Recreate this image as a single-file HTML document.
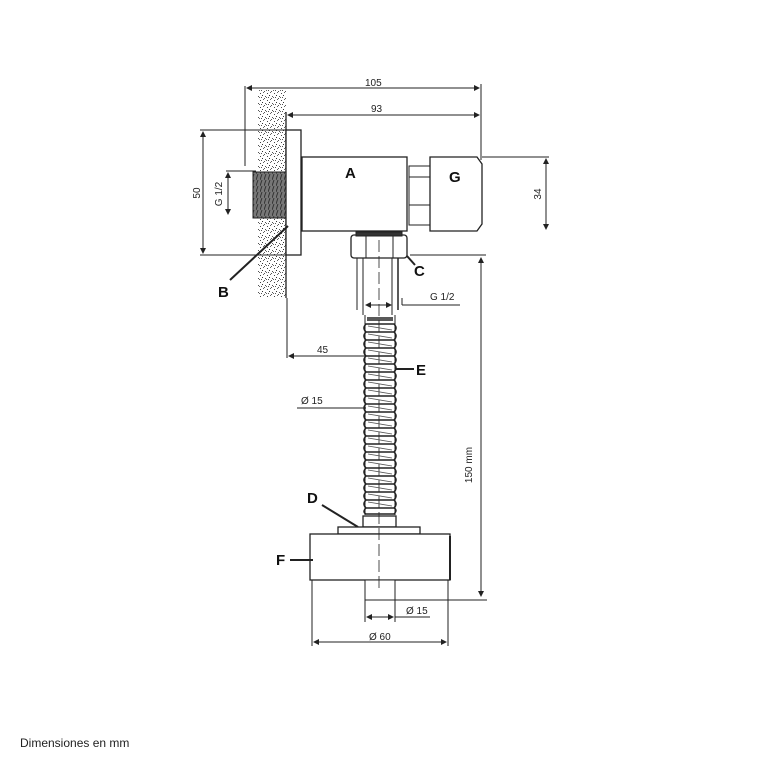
<!DOCTYPE html>
<html><head><meta charset="utf-8"><style>
html,body{margin:0;padding:0;background:#fff;}
svg{display:block;}
text{font-family:"Liberation Sans",sans-serif;fill:#222;}
.d{font-size:10px;}
.L{font-size:15px;font-weight:bold;fill:#111;}
</style></head><body>
<svg width="768" height="768" viewBox="0 0 768 768" xmlns="http://www.w3.org/2000/svg">
<defs>
<pattern id="st" width="7" height="7" patternUnits="userSpaceOnUse">
<rect x="1" y="2" width="1" height="1" fill="#444"/><rect x="5" y="0" width="1" height="1" fill="#555"/>
<rect x="3" y="4" width="1" height="1" fill="#333"/><rect x="6" y="5" width="1" height="1" fill="#555"/>
<rect x="0" y="6" width="1" height="1" fill="#666"/><rect x="4" y="1" width="1" height="1" fill="#666"/>
<rect x="2" y="6" width="1" height="1" fill="#555"/>
</pattern>
<pattern id="th" width="4" height="6" patternUnits="userSpaceOnUse">
<rect width="4" height="6" fill="#777"/><line x1="0" y1="6" x2="2" y2="0" stroke="#333" stroke-width="1"/>
</pattern>
<marker id="a" markerWidth="6" markerHeight="6" refX="5" refY="3" orient="auto-start-reverse" markerUnits="userSpaceOnUse"><path d="M0,0 L6,3 L0,6 z" fill="#222"/></marker>
</defs>
<g stroke="#222" fill="none" stroke-width="1">
<rect x="258" y="90" width="28" height="208" fill="url(#st)" stroke="none"/>
<line x1="286" y1="112" x2="286" y2="298" stroke-width="1.3"/>
<line x1="245" y1="86" x2="245" y2="166"/>
<line x1="247" y1="88" x2="479" y2="88" marker-start="url(#a)" marker-end="url(#a)"/>
<line x1="481" y1="84" x2="481" y2="160"/>
<line x1="288" y1="115" x2="479" y2="115" marker-start="url(#a)" marker-end="url(#a)"/>
<rect x="286" y="130" width="15" height="125" fill="#fff" stroke-width="1.3"/>
<rect x="253" y="172" width="33" height="46" fill="url(#th)" stroke="#222"/>
<rect x="302" y="157" width="105" height="74" fill="#fff" stroke-width="1.3"/>
<rect x="409" y="166" width="21" height="59" fill="#fff"/>
<line x1="409" y1="177" x2="430" y2="177"/><line x1="409" y1="205" x2="430" y2="205"/>
<path d="M430,157 L477,157 L482,164 L482,224 L477,231 L430,231 Z" fill="#fff" stroke-width="1.3"/>
<line x1="482" y1="157" x2="549" y2="157"/>
<line x1="546" y1="159" x2="546" y2="229" marker-start="url(#a)" marker-end="url(#a)"/>
<line x1="200" y1="130" x2="300" y2="130"/><line x1="200" y1="255" x2="300" y2="255"/>
<line x1="203" y1="132" x2="203" y2="253" marker-start="url(#a)" marker-end="url(#a)"/>
<line x1="226" y1="171" x2="256" y2="171"/>
<line x1="228" y1="173" x2="228" y2="214" marker-start="url(#a)" marker-end="url(#a)"/>
<line x1="230" y1="280" x2="288" y2="226" stroke-width="2"/>
<rect x="351" y="235" width="56" height="23" rx="3" fill="#fff" stroke-width="1.3"/>
<rect x="356" y="232" width="46" height="4" fill="#333"/>
<line x1="366" y1="236" x2="366" y2="258"/><line x1="393" y1="236" x2="393" y2="258"/>
<line x1="407" y1="256" x2="415" y2="265" stroke-width="2"/>
<line x1="357" y1="258" x2="357" y2="310"/><line x1="363" y1="258" x2="363" y2="315"/>
<line x1="392" y1="258" x2="392" y2="315"/><line x1="398" y1="258" x2="398" y2="310" stroke-width="1.5"/>
<line x1="366" y1="305" x2="391" y2="305" marker-start="url(#a)" marker-end="url(#a)"/>
<line x1="402" y1="305" x2="460" y2="305"/>
<line x1="402" y1="298" x2="402" y2="305"/>
<line x1="410" y1="255" x2="486" y2="255"/>
<line x1="481" y1="258" x2="481" y2="596" marker-start="url(#a)" marker-end="url(#a)"/>
<line x1="375" y1="600" x2="487" y2="600"/>
<line x1="287" y1="298" x2="287" y2="358"/>
<line x1="289" y1="356" x2="365" y2="356" marker-start="url(#a)"/>
<line x1="365" y1="315" x2="365" y2="515"/><line x1="395" y1="315" x2="395" y2="515"/>
<path d="M367,318 h26 M367,320 h26" stroke-width="1.6"/>
<line x1="396" y1="369" x2="414" y2="369" stroke-width="2"/>
<line x1="297" y1="408" x2="366" y2="408"/>
<line x1="322" y1="505" x2="358" y2="527" stroke-width="2"/>
<rect x="363" y="516" width="33" height="11" fill="#fff" stroke-width="1.3"/>
<rect x="338" y="527" width="82" height="7" fill="#fff" stroke-width="1.3"/>
<rect x="310" y="534" width="140" height="46" fill="#fff" stroke-width="1.3"/>
<line x1="450" y1="536" x2="450" y2="580" stroke-width="2"/>
<line x1="290" y1="560" x2="313" y2="560" stroke-width="2"/>
<rect x="365" y="580" width="30" height="20" fill="#fff"/>
<line x1="379" y1="240" x2="379" y2="592" stroke-dasharray="12,4" stroke-width="0.8"/>
<line x1="365" y1="600" x2="365" y2="622"/><line x1="395" y1="600" x2="395" y2="622"/>
<line x1="367" y1="617" x2="393" y2="617" marker-start="url(#a)" marker-end="url(#a)"/>
<line x1="395" y1="617" x2="430" y2="617"/>
<line x1="312" y1="580" x2="312" y2="646"/><line x1="448" y1="580" x2="448" y2="646"/>
<line x1="314" y1="642" x2="446" y2="642" marker-start="url(#a)" marker-end="url(#a)"/>
</g>
<g stroke="#222" fill="none" stroke-width="1.5">
<path d="M366,324 q-4,4 0,8 h28 q4,-4 0,-8 z M366,332 q-4,4 0,8 h28 q4,-4 0,-8 z M366,340 q-4,4 0,8 h28 q4,-4 0,-8 z M366,348 q-4,4 0,8 h28 q4,-4 0,-8 z M366,356 q-4,4 0,8 h28 q4,-4 0,-8 z M366,364 q-4,4 0,8 h28 q4,-4 0,-8 z M366,372 q-4,4 0,8 h28 q4,-4 0,-8 z M366,380 q-4,4 0,8 h28 q4,-4 0,-8 z M366,388 q-4,4 0,8 h28 q4,-4 0,-8 z M366,396 q-4,4 0,8 h28 q4,-4 0,-8 z M366,404 q-4,4 0,8 h28 q4,-4 0,-8 z M366,412 q-4,4 0,8 h28 q4,-4 0,-8 z M366,420 q-4,4 0,8 h28 q4,-4 0,-8 z M366,428 q-4,4 0,8 h28 q4,-4 0,-8 z M366,436 q-4,4 0,8 h28 q4,-4 0,-8 z M366,444 q-4,4 0,8 h28 q4,-4 0,-8 z M366,452 q-4,4 0,8 h28 q4,-4 0,-8 z M366,460 q-4,4 0,8 h28 q4,-4 0,-8 z M366,468 q-4,4 0,8 h28 q4,-4 0,-8 z M366,476 q-4,4 0,8 h28 q4,-4 0,-8 z M366,484 q-4,4 0,8 h28 q4,-4 0,-8 z M366,492 q-4,4 0,8 h28 q4,-4 0,-8 z M366,500 q-4,4 0,8 h28 q4,-4 0,-8 z M366,508 q-4,4 0,6 h28 q4,-4 0,-6"/>
</g>
<g stroke="#555" stroke-width="0.8">
<path d="M368,326 l24,4 M368,334 l24,4 M368,342 l24,4 M368,350 l24,4 M368,358 l24,4 M368,366 l24,4 M368,374 l24,4 M368,382 l24,4 M368,390 l24,4 M368,398 l24,4 M368,406 l24,4 M368,414 l24,4 M368,422 l24,4 M368,430 l24,4 M368,438 l24,4 M368,446 l24,4 M368,454 l24,4 M368,462 l24,4 M368,470 l24,4 M368,478 l24,4 M368,486 l24,4 M368,494 l24,4 M368,502 l24,4"/>
</g>
<text class="d" x="365" y="86">105</text>
<text class="d" x="371" y="112">93</text>
<text class="L" x="345" y="178">A</text>
<text class="L" x="449" y="182">G</text>
<text class="L" x="218" y="297">B</text>
<text class="L" x="414" y="276">C</text>
<text class="L" x="416" y="375">E</text>
<text class="L" x="307" y="503">D</text>
<text class="L" x="276" y="565">F</text>
<text class="d" x="430" y="300">G 1/2</text>
<text class="d" x="317" y="353">45</text>
<text class="d" x="301" y="404">Ø 15</text>
<text class="d" x="406" y="614">Ø 15</text>
<text class="d" x="369" y="640">Ø 60</text>
<text class="d" transform="translate(200,193) rotate(-90)" text-anchor="middle">50</text>
<text class="d" transform="translate(222,194) rotate(-90)" text-anchor="middle">G 1/2</text>
<text class="d" transform="translate(541,194) rotate(-90)" text-anchor="middle">34</text>
<text class="d" transform="translate(472,465) rotate(-90)" text-anchor="middle">150 mm</text>
<text x="20" y="747" style="font-size:12px">Dimensiones en mm</text>
</svg>
</body></html>
